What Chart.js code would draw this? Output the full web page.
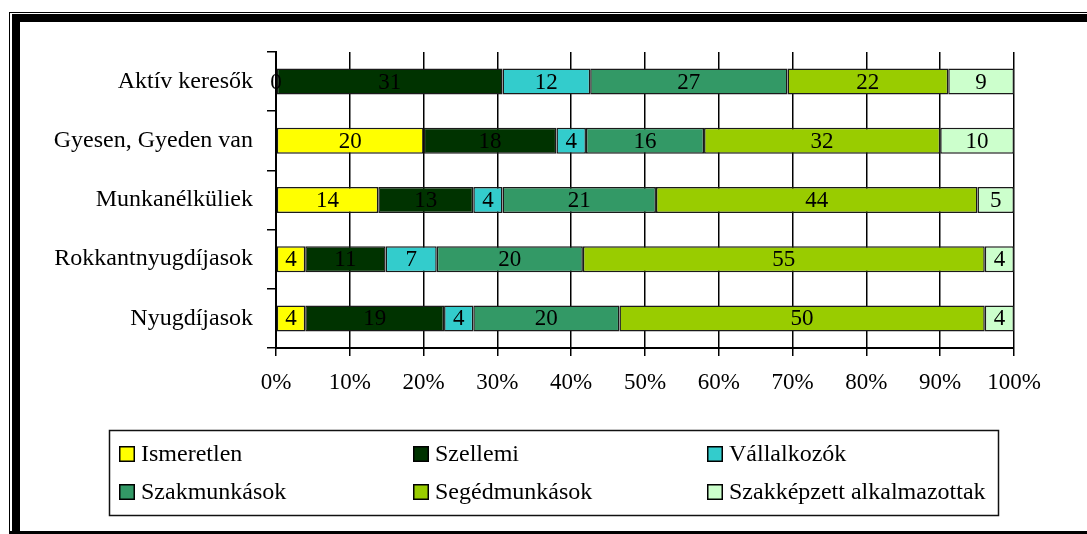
<!DOCTYPE html>
<html>
<head>
<meta charset="utf-8">
<script src="https://cdn.jsdelivr.net/npm/chart.js@4.4.1/dist/chart.umd.min.js"></script>
<style>
  body { margin: 0; background: #fff; }
  #wrap { width: 1087px; height: 534px; }
</style>
</head>
<body>
<div id="wrap"><canvas id="myChart" width="1087" height="534"></canvas></div>
<script>
const categories = ['Aktív keresők', 'Gyesen, Gyeden van', 'Munkanélküliek', 'Rokkantnyugdíjasok', 'Nyugdíjasok'];
const seriesNames = ['Ismeretlen', 'Szellemi', 'Vállalkozók', 'Szakmunkások', 'Segédmunkások', 'Szakképzett alkalmazottak'];
const ismeretlen = [0, 20, 14, 4, 4];
const szellemi = [31, 18, 13, 11, 19];
const vallalkozok = [12, 4, 4, 7, 4];
const szakmunkasok = [27, 16, 21, 20, 20];
const segedmunkasok = [22, 32, 44, 55, 50];
const szakkepzett = [9, 10, 5, 4, 4];
const xMax = 100;
const xStep = 10;

const seriesValues = [ismeretlen, szellemi, vallalkozok, szakmunkasok, segedmunkasok, szakkepzett];
const colors = ['#ffff00', '#003300', '#33cccc', '#339966', '#99cc00', '#ccffcc'];
const FONT = '"Liberation Serif", "Times New Roman", serif';

// 100% stacked: share of each row total
const rowTotals = categories.map((c, i) => seriesValues.reduce((s, arr) => s + arr[i], 0));

const datasets = seriesValues.map((arr, k) => ({
  label: seriesNames[k],
  data: arr.map((v, i) => v / rowTotals[i] * 100),
  raw: arr,
  backgroundColor: colors[k],
  borderColor: '#1a1a1a',
  borderWidth: 1.5,
  borderSkipped: false,
  barPercentage: 0.44,
  categoryPercentage: 1
}));

// value labels in the middle of every segment
const valueLabels = {
  id: 'valueLabels',
  afterDatasetsDraw(chart) {
    const ctx = chart.ctx;
    ctx.save();
    ctx.font = '23px ' + FONT;
    ctx.fillStyle = '#000';
    ctx.textAlign = 'center';
    ctx.textBaseline = 'middle';
    chart.data.datasets.forEach((ds, k) => {
      chart.getDatasetMeta(k).data.forEach((el, i) => {
        ctx.fillText(String(ds.raw[i]), (el.x + el.base) / 2, el.y + 1);
      });
    });
    ctx.restore();
  }
};

// frame + boxed legend in three columns
const frameLegend = {
  id: 'frameLegend',
  afterDraw(chart) {
    const ctx = chart.ctx;
    ctx.save();
    ctx.fillStyle = '#000';
    ctx.fillRect(9, 12, 1078, 1);
    ctx.fillRect(9, 12, 1, 522);
    ctx.fillRect(12, 14, 1075, 8);
    ctx.fillRect(12, 14, 8, 520);
    ctx.fillRect(9, 531, 1078, 3);

    ctx.lineWidth = 1.5;
    ctx.strokeStyle = '#111';
    ctx.strokeRect(109.5, 430.5, 889, 85);

    const colX = [119, 413, 707];
    const rowY = [454, 492];
    ctx.font = '24px ' + FONT;
    ctx.textAlign = 'left';
    ctx.textBaseline = 'middle';
    chart.data.datasets.forEach((ds, k) => {
      const x = colX[k % 3];
      const y = rowY[Math.floor(k / 3)];
      ctx.fillStyle = ds.backgroundColor;
      ctx.fillRect(x, y - 8, 16, 16);
      ctx.strokeStyle = '#000';
      ctx.lineWidth = 1.5;
      ctx.strokeRect(x + 0.75, y - 7.25, 14.5, 14.5);
      ctx.fillStyle = '#000';
      ctx.fillText(ds.label, x + 22, y + 1);
    });
    ctx.restore();
  }
};

new Chart(document.getElementById('myChart'), {
  type: 'bar',
  data: { labels: categories, datasets: datasets },
  options: {
    indexAxis: 'y',
    responsive: false,
    animation: false,
    layout: { padding: { left: 0, top: 52, right: 73, bottom: 126 } },
    plugins: { legend: { display: false }, tooltip: { enabled: false } },
    scales: {
      x: {
        stacked: true,
        min: 0,
        max: xMax,
        afterFit(scale) { scale.height = 60; },
        grid: { color: '#000', lineWidth: 1.5, tickLength: 8, drawTicks: true },
        border: { display: true, color: '#000', width: 2 },
        ticks: {
          stepSize: xStep,
          color: '#000',
          padding: 13,
          font: { family: FONT, size: 23 },
          callback: v => v + '%'
        }
      },
      y: {
        stacked: true,
        afterFit(scale) { scale.width = 276; },
        grid: { offset: true, drawOnChartArea: false, drawTicks: true, tickLength: 9, color: '#000', lineWidth: 1.5 },
        border: { display: true, color: '#000', width: 2 },
        ticks: {
          color: '#000',
          padding: 14,
          autoSkip: false,
          font: { family: FONT, size: 24 }
        }
      }
    }
  },
  plugins: [valueLabels, frameLegend]
});
</script>
</body>
</html>
